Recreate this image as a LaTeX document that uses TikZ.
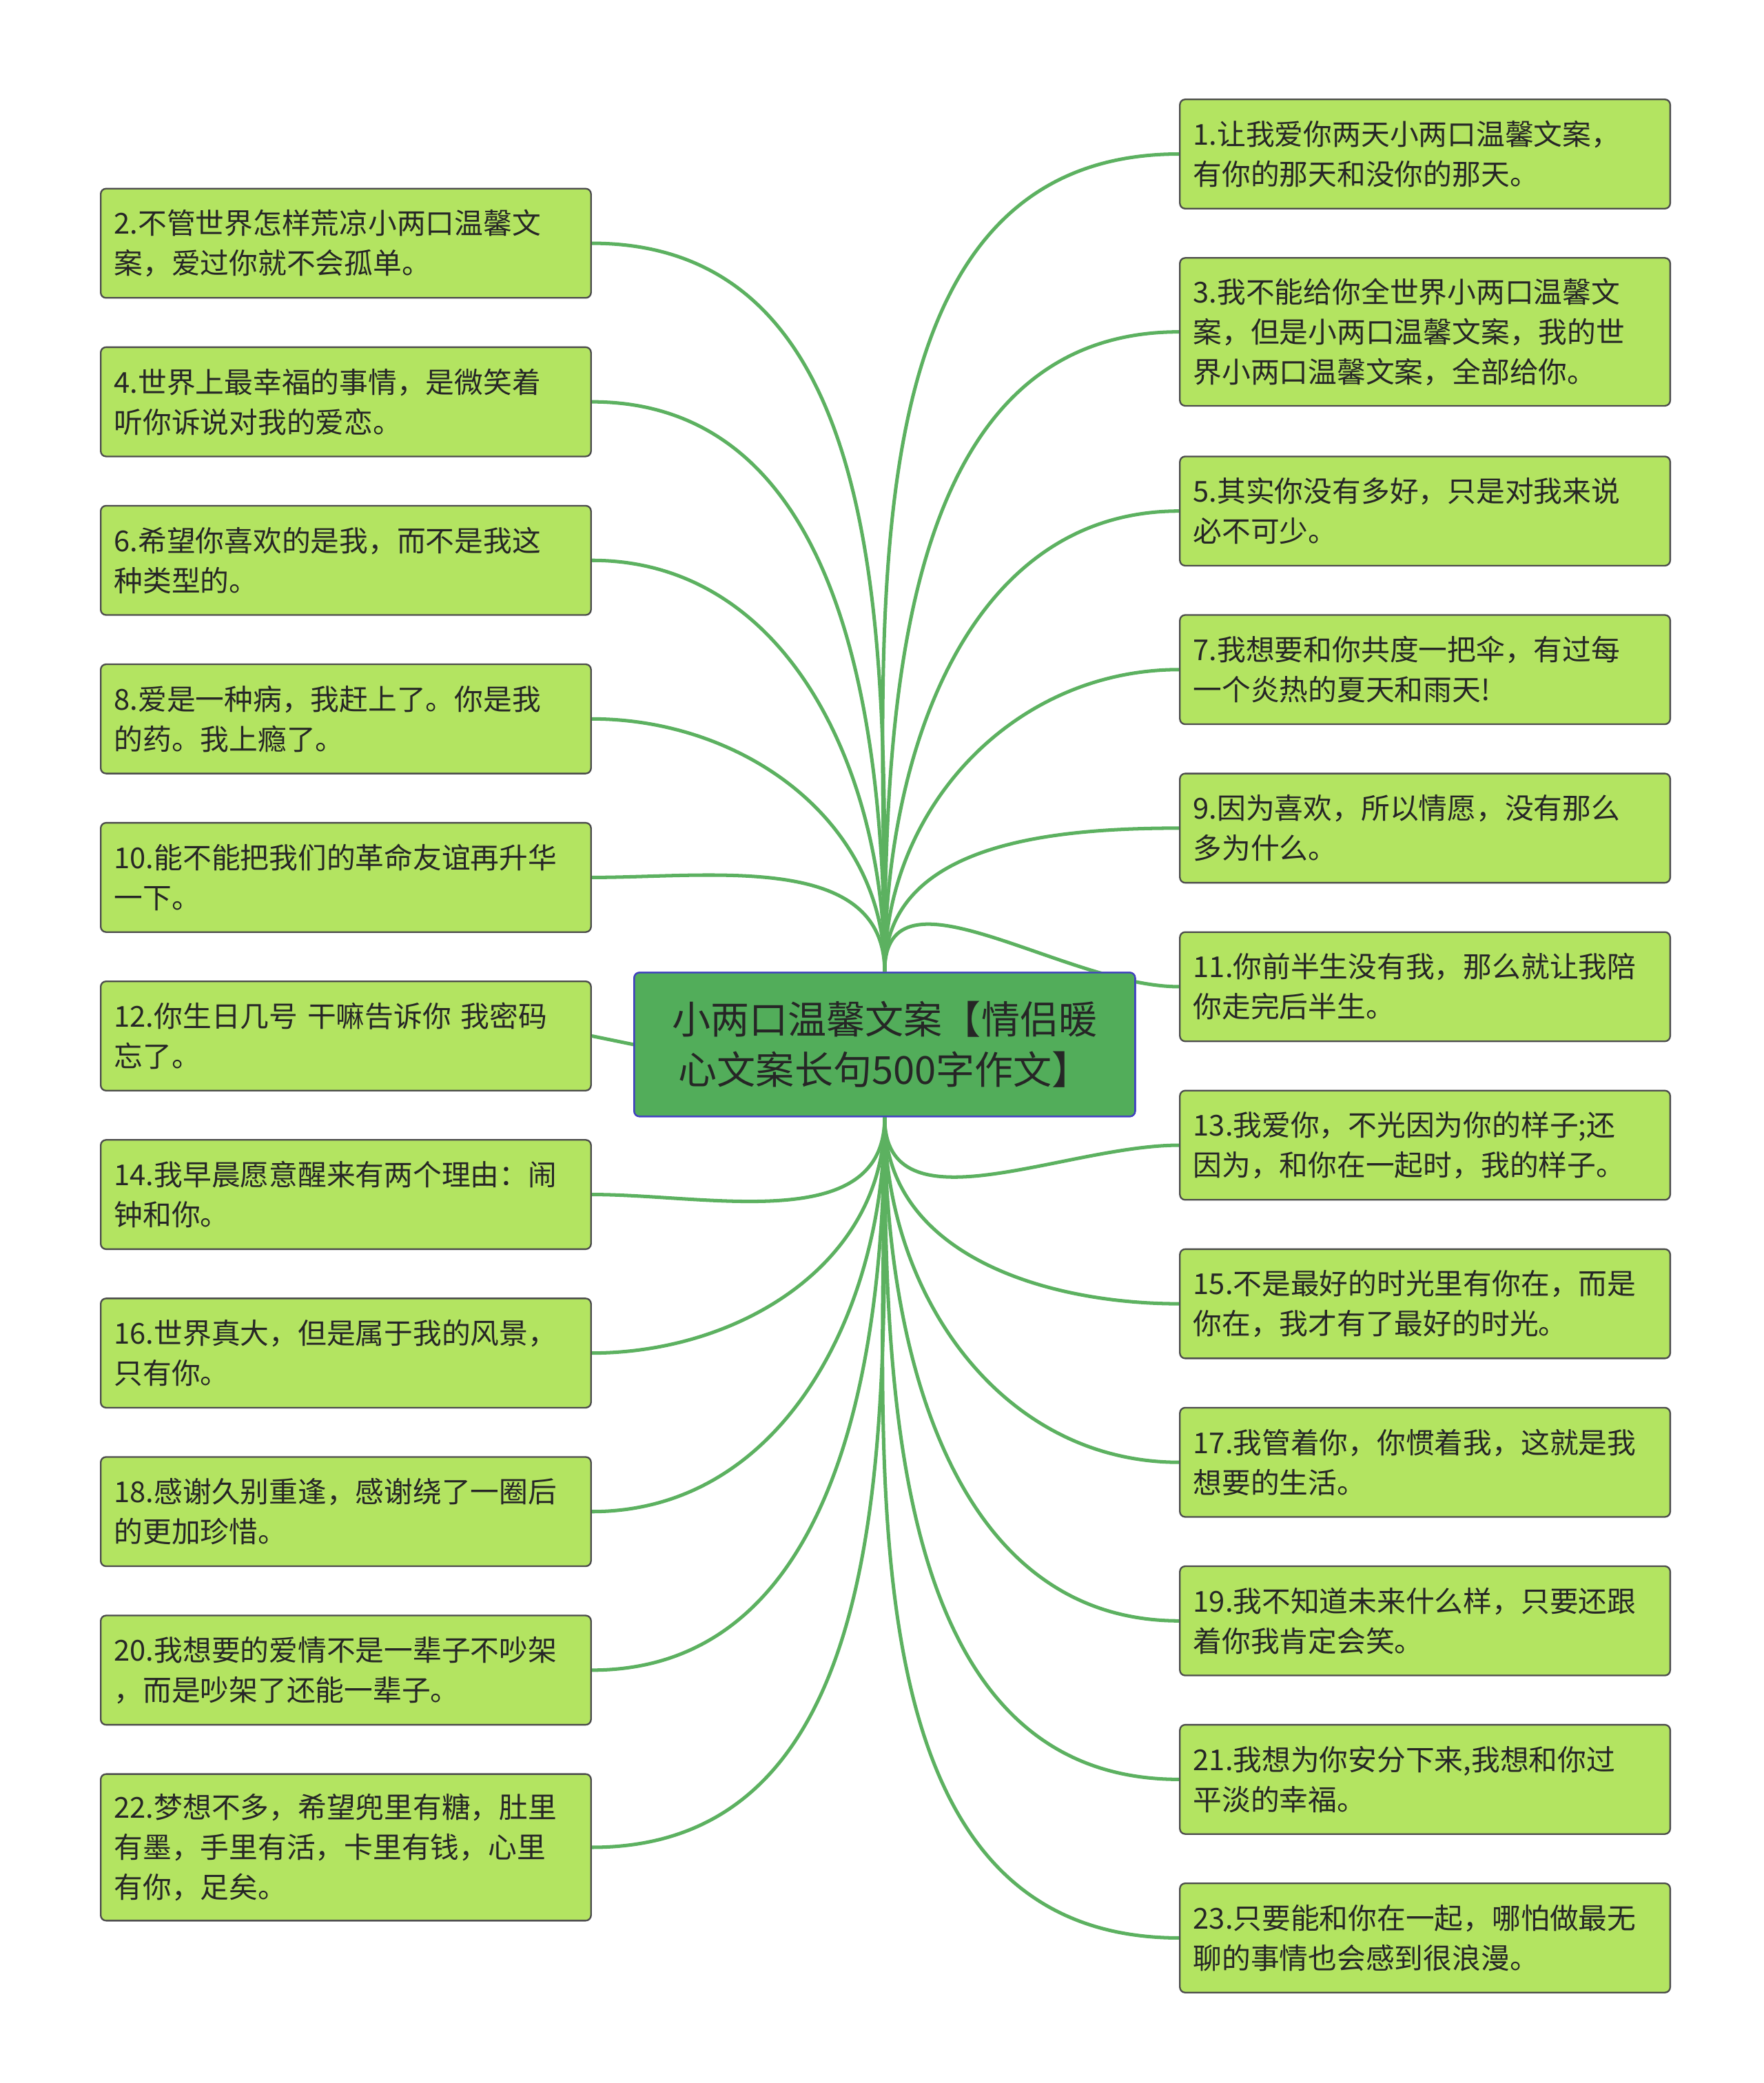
\documentclass[tikz,border=0pt]{standalone}
\usepackage{fontspec}
\setmainfont{Noto Sans CJK SC}
\definecolor{leaffill}{HTML}{B3E461}
\definecolor{rootfill}{HTML}{52AD5A}
\definecolor{linkgreen}{HTML}{5CB160}
\tikzset{
  leaf/.style={draw=black!70, fill=leaffill, rounded corners=4pt, line width=1.2pt,
    anchor=north west, text width=348pt, inner sep=10pt, align=left,
    minimum height=82pt, font=\fontsize{21.6}{30}\selectfont, text=black!85},
  root/.style={draw=blue!50!gray, fill=rootfill, rounded corners=4pt, line width=1.2pt,
    minimum width=376pt, minimum height=108pt, align=center,
    font=\fontsize{29}{38}\selectfont, text=black!85},
  link/.style={draw=linkgreen, line width=2.6pt}
}
\begin{document}
\begin{tikzpicture}[x=1pt,y=-1pt]
\useasboundingbox (0,0) rectangle (1324,1563.5);
% centre
\node[root] (c) at (664,784) {小两口温馨文案【情侣暖\\心文案长句500字作文】};
% left side
\node[leaf] (l2) at (75,141) {2.不管世界怎样荒凉小两口温馨文\\案，爱过你就不会孤单。};
\node[leaf] (l4) at (75,260) {4.世界上最幸福的事情，是微笑着\\听你诉说对我的爱恋。};
\node[leaf] (l6) at (75,379) {6.希望你喜欢的是我，而不是我这\\种类型的。};
\node[leaf] (l8) at (75,498) {8.爱是一种病，我赶上了。你是我\\的药。我上瘾了。};
\node[leaf] (l10) at (75,617) {10.能不能把我们的革命友谊再升华\\一下。};
\node[leaf] (l12) at (75,736) {12.你生日几号 干嘛告诉你 我密码\\忘了。};
\node[leaf] (l14) at (75,855) {14.我早晨愿意醒来有两个理由：闹\\钟和你。};
\node[leaf] (l16) at (75,974) {16.世界真大，但是属于我的风景，\\只有你。};
\node[leaf] (l18) at (75,1093) {18.感谢久别重逢，感谢绕了一圈后\\的更加珍惜。};
\node[leaf] (l20) at (75,1212) {20.我想要的爱情不是一辈子不吵架\\，而是吵架了还能一辈子。};
\node[leaf, minimum height=110pt] (l22) at (75,1331) {22.梦想不多，希望兜里有糖，肚里\\有墨，手里有活，卡里有钱，心里\\有你，足矣。};
% right side
\node[leaf] (r1) at (885,74) {1.让我爱你两天小两口温馨文案，\\有你的那天和没你的那天。};
\node[leaf, minimum height=111pt] (r3) at (885,193) {3.我不能给你全世界小两口温馨文\\案，但是小两口温馨文案，我的世\\界小两口温馨文案，全部给你。};
\node[leaf] (r5) at (885,342) {5.其实你没有多好，只是对我来说\\必不可少。};
\node[leaf] (r7) at (885,461) {7.我想要和你共度一把伞，有过每\\一个炎热的夏天和雨天!};
\node[leaf] (r9) at (885,580) {9.因为喜欢，所以情愿，没有那么\\多为什么。};
\node[leaf] (r11) at (885,699) {11.你前半生没有我，那么就让我陪\\你走完后半生。};
\node[leaf] (r13) at (885,818) {13.我爱你，不光因为你的样子;还\\因为，和你在一起时，我的样子。};
\node[leaf] (r15) at (885,937) {15.不是最好的时光里有你在，而是\\你在，我才有了最好的时光。};
\node[leaf] (r17) at (885,1056) {17.我管着你，你惯着我，这就是我\\想要的生活。};
\node[leaf] (r19) at (885,1175) {19.我不知道未来什么样，只要还跟\\着你我肯定会笑。};
\node[leaf] (r21) at (885,1294) {21.我想为你安分下来,我想和你过\\平淡的幸福。};
\node[leaf] (r23) at (885,1413) {23.只要能和你在一起，哪怕做最无\\聊的事情也会感到很浪漫。};
% connectors
\foreach \b in {l2,l4,l6,l8,l10}
  \draw[link] (c.north) to[out=90,in=0] (\b.east);
\draw[link] (c.west) -- (l12.east);
\foreach \b in {l14,l16,l18,l20,l22}
  \draw[link] (c.south) to[out=-90,in=0] (\b.east);
\foreach \b in {r1,r3,r5,r7,r9,r11}
  \draw[link] (c.north) to[out=90,in=180] (\b.west);
\foreach \b in {r13,r15,r17,r19,r21,r23}
  \draw[link] (c.south) to[out=-90,in=180] (\b.west);
% redraw centre on top
\node[root] at (c) {小两口温馨文案【情侣暖\\心文案长句500字作文】};
\end{tikzpicture}
\end{document}
